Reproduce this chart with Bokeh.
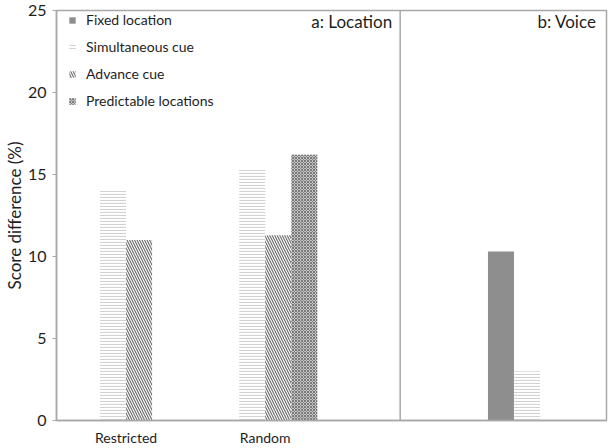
from bokeh.plotting import figure
from bokeh.models import ColumnDataSource, Range1d, FixedTicker, Legend, LegendItem, Span
from bokeh.core.properties import value
from bokeh.embed import file_html
from bokeh.resources import INLINE

# ---- data ----
groups = ["Restricted", "Random", "Voice"]
group_labels = ["Restricted", "Random", ""]
series = ["Fixed location", "Simultaneous cue", "Advance cue", "Predictable locations"]
fixed_location = [0.0, 0.0, 10.3]
simultaneous_cue = [14.0, 15.3, 3.0]
advance_cue = [11.0, 11.3, 0.0]
predictable_locations = [0.0, 16.2, 0.0]
y_ticks = [0, 5, 10, 15, 20, 25]
panel_titles = ["a: Location", "b: Voice"]

# ---- layout (styling) ----
centers = [0.5, 1.5, 3.475]
divider = 2.47
x_end = 3.953
bw = 0.187
FONT = "Lato"
TXT = "#1e1e1e"
GREY = "#a8a8a8"

p = figure(frame_width=550, frame_height=410, output_backend="svg", toolbar_location=None,
           x_range=Range1d(0, x_end), y_range=Range1d(0, 25),
           min_border_left=49, min_border_right=2, min_border_top=10, min_border_bottom=28,
           background_fill_color="white", border_fill_color="white")
p.grid.visible = False
p.outline_line_color = GREY
p.outline_line_width = 1.5

styles = [
    dict(fill_color="#8e8e8e"),
    dict(fill_color="white", hatch_pattern="horizontal_line", hatch_color="#d2d2d2", hatch_scale=3.0, hatch_weight=1.2),
    dict(fill_color="white", hatch_pattern="left_diagonal_line", hatch_color="#707070", hatch_scale=5.0, hatch_weight=1.2),
    dict(fill_color="#c4c4c4", hatch_pattern="diagonal_cross", hatch_color="#7a7a7a", hatch_scale=3.0, hatch_weight=1.0),
]
values = [fixed_location, simultaneous_cue, advance_cue, predictable_locations]

items = []
for i, (name, vals, st) in enumerate(zip(series, values, styles)):
    xs = [c + (i - 1.5) * bw for c in centers]
    src = ColumnDataSource(dict(x=xs, top=vals))
    r = p.vbar(x="x", top="top", width=bw, source=src, line_color=None, **st)
    items.append(LegendItem(label=name, renderers=[r]))

legend = Legend(items=items, location=(12, 311), margin=0, padding=0,
                border_line_color=None, background_fill_alpha=0,
                glyph_width=8, glyph_height=8, label_height=14, spacing=10,
                label_standoff=10, label_text_font=FONT, label_text_font_size="14px",
                label_text_color=TXT)
p.add_layout(legend)

p.add_layout(Span(location=divider, dimension="height", line_color=GREY, line_width=1.5))

p.text(x=[divider, x_end], y=[25, 25], text=panel_titles, x_offset=[-8, -10], y_offset=11,
       text_align="right", text_baseline="middle", text_font=value(FONT),
       text_font_size="17px", text_color=TXT)

# y axis
ya = p.yaxis[0]
ya.ticker = FixedTicker(ticks=y_ticks)
ya.minor_tick_line_color = None
ya.major_tick_out = 4
ya.major_tick_in = 0
ya.major_tick_line_color = GREY
ya.axis_line_color = GREY
ya.axis_line_width = 1.5
ya.major_label_standoff = 6
ya.major_label_text_font = FONT
ya.major_label_text_font_size = "16px"
ya.major_label_text_color = TXT
ya.axis_label = "Score difference (%)"
ya.axis_label_text_font = FONT
ya.axis_label_text_font_size = "17px"
ya.axis_label_text_font_style = "normal"
ya.axis_label_text_color = TXT
ya.axis_label_standoff = 0

xa = p.xaxis[0]
xa.ticker = FixedTicker(ticks=centers[:2])
xa.major_label_overrides = {centers[0]: group_labels[0], centers[1]: group_labels[1]}
xa.minor_tick_line_color = None
xa.major_tick_line_color = None
xa.major_tick_out = 0
xa.major_tick_in = 0
xa.axis_line_color = GREY
xa.axis_line_width = 1.5
xa.major_label_standoff = 8
xa.major_label_text_font = FONT
xa.major_label_text_font_size = "14px"
xa.major_label_text_color = TXT

open("out.html", "w").write(file_html(p, INLINE))
